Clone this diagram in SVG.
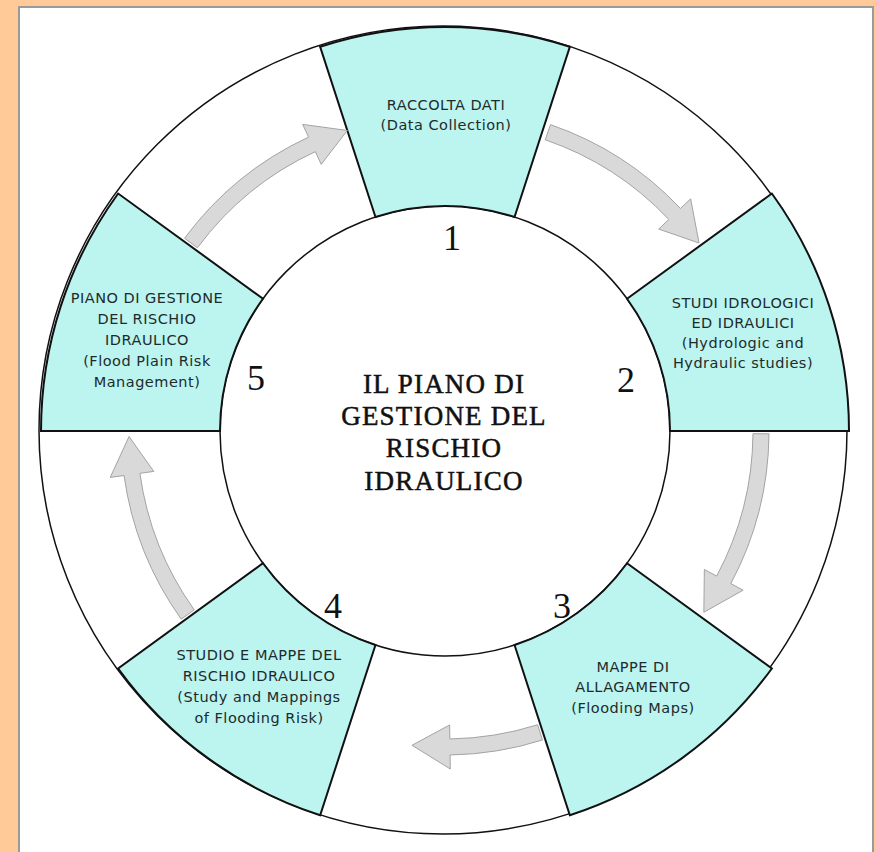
<svg xmlns="http://www.w3.org/2000/svg" width="876" height="852" viewBox="0 0 876 852">
<style>
.seg{fill:#bcf4f0;stroke:#111;stroke-width:2;stroke-linejoin:miter}
.lbl{font-family:"DejaVu Sans","Liberation Sans",sans-serif;font-size:14.5px;letter-spacing:0.5px;fill:#1e2b2b;text-anchor:middle}
.num{font-family:"Liberation Serif","Times New Roman",serif;font-size:36px;fill:#111;text-anchor:middle}
.title{font-family:"Liberation Serif","Times New Roman",serif;font-size:27px;letter-spacing:1.2px;fill:#111;text-anchor:middle;stroke:#111;stroke-width:0.5}
.arr{fill:#d9d9d9;stroke:#a3a3a3;stroke-width:1}
</style>
<rect x="0" y="0" width="876" height="852" fill="#ffc998"/>
<rect x="19" y="7" width="854" height="860" fill="#ffffff" stroke="#9a9a9a" stroke-width="2"/>
<circle cx="443" cy="430" r="404" fill="#ffffff" stroke="#111" stroke-width="1.5"/>
<circle cx="445" cy="431" r="225" fill="#ffffff" stroke="#111" stroke-width="1.5"/>
<g id="node1">
<path class="seg" d="M 375.47 217.01 L 320.16 46.77 A 404 404 0 0 1 569.84 46.77 L 514.53 217.01 A 225 225 0 0 0 375.47 217.01 Z"/>
<text class="lbl" x="446" y="110">RACCOLTA DATI</text>
<text class="lbl" x="446" y="130">(Data Collection)</text>
<text class="num" x="452" y="250">1</text>
</g>
<g id="node2">
<path class="seg" d="M 627.03 298.75 L 771.84 193.53 A 404 404 0 0 1 849 431 L 670 431 A 225 225 0 0 0 627.03 298.75 Z"/>
<text class="lbl" x="743" y="308">STUDI IDROLOGICI</text>
<text class="lbl" x="743" y="328">ED IDRAULICI</text>
<text class="lbl" x="743" y="348">(Hydrologic and</text>
<text class="lbl" x="743" y="368">Hydraulic studies)</text>
<text class="num" x="626" y="392">2</text>
</g>
<g id="node3">
<path class="seg" d="M 627.03 563.25 L 771.84 668.47 A 404 404 0 0 1 569.84 815.23 L 514.53 644.99 A 225 225 0 0 0 627.03 563.25 Z"/>
<text class="lbl" x="633" y="672">MAPPE DI</text>
<text class="lbl" x="633" y="692">ALLAGAMENTO</text>
<text class="lbl" x="633" y="713">(Flooding Maps)</text>
<text class="num" x="562" y="618">3</text>
</g>
<g id="node4">
<path class="seg" d="M 375.47 644.99 L 320.16 815.23 A 404 404 0 0 1 118.16 668.47 L 262.97 563.25 A 225 225 0 0 0 375.47 644.99 Z"/>
<text class="lbl" x="259" y="660">STUDIO E MAPPE DEL</text>
<text class="lbl" x="259" y="681">RISCHIO IDRAULICO</text>
<text class="lbl" x="259" y="702">(Study and Mappings</text>
<text class="lbl" x="259" y="723">of Flooding Risk)</text>
<text class="num" x="333" y="618">4</text>
</g>
<g id="node5">
<path class="seg" d="M 220 431 L 41 431 A 404 404 0 0 1 118.16 193.53 L 262.97 298.75 A 225 225 0 0 0 220 431 Z"/>
<text class="lbl" x="147" y="303">PIANO DI GESTIONE</text>
<text class="lbl" x="147" y="324">DEL RISCHIO</text>
<text class="lbl" x="147" y="345">IDRAULICO</text>
<text class="lbl" x="147" y="366">(Flood Plain Risk</text>
<text class="lbl" x="147" y="387">Management)</text>
<text class="num" x="256" y="390">5</text>
</g>
<g id="center">
<text class="title" x="444" y="393">IL PIANO DI</text>
<text class="title" x="444" y="425">GESTIONE DEL</text>
<text class="title" x="444" y="457">RISCHIO</text>
<text class="title" x="444" y="490">IDRAULICO</text>
</g>
<g id="connectors">
<path class="arr" d="M 550.49 124.65 A 324 324 0 0 1 680.48 208.45 L 690.65 198.83 L 699.02 243.04 L 658.67 229.06 L 668.85 219.44 A 308 308 0 0 0 545.28 139.78 Z"/>
<path class="arr" d="M 768.99 433.83 A 324 324 0 0 1 730.81 583.61 L 743.16 590.20 L 703.85 612.25 L 704.35 569.48 L 716.70 576.07 A 308 308 0 0 0 752.99 433.69 Z"/>
<path class="arr" d="M 542.43 740.01 A 324 324 0 0 1 450.09 754.96 L 450.31 768.96 L 411.97 745.27 L 449.62 724.96 L 449.84 738.96 A 308 308 0 0 0 537.62 724.75 Z"/>
<path class="arr" d="M 181.23 619.15 A 324 324 0 0 1 124.07 475.53 L 110.21 477.45 L 129.05 436.51 L 153.79 471.41 L 139.92 473.33 A 308 308 0 0 0 194.25 609.86 Z"/>
<path class="arr" d="M 184.55 238.28 A 324 324 0 0 1 308.58 137.12 L 302.69 124.42 L 347.35 130.47 L 321.21 164.33 L 315.32 151.63 A 308 308 0 0 0 197.41 247.80 Z"/>
</g>
</svg>
